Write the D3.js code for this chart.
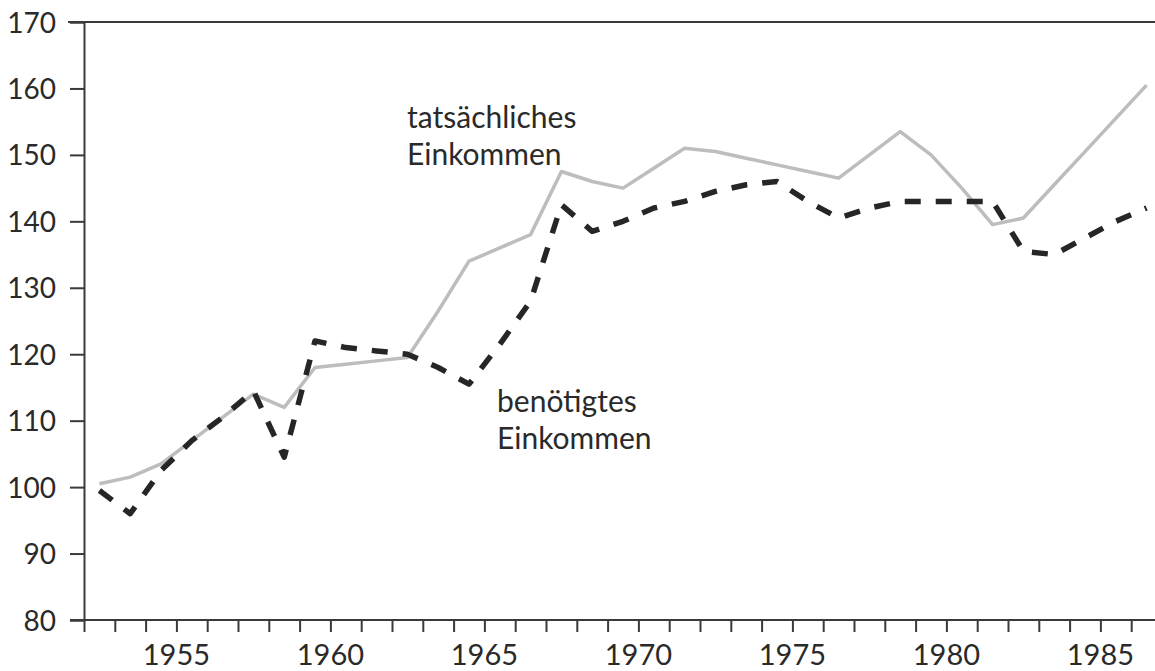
<!DOCTYPE html>
<html>
<head>
<meta charset="utf-8">
<script src="https://cdn.jsdelivr.net/npm/d3@7"></script>
<style>
  html, body { margin: 0; padding: 0; background: #fff; }
  svg { display: block; }
</style>
</head>
<body>
<svg id="chart" width="1155" height="671"></svg>
<script>
// ---- data ----
const years = [1952,1953,1954,1955,1956,1957,1958,1959,1960,1961,1962,1963,1964,1965,1966,1967,1968,1969,1970,1971,1972,1973,1974,1975,1976,1977,1978,1979,1980,1981,1982,1983,1984,1985,1986];
const tatsaechlich = [100.5,101.5,103.5,107,110.5,114,112,118,118.5,119,119.5,126.5,134,136,138,147.5,146,145,148,151,150.5,149.5,148.5,147.5,146.5,150,153.5,150,145,139.5,140.5,145.5,150.5,155.5,160.5];
const benoetigt = [99.5,96,102.5,107,110.5,114.5,104.5,122,121,120.5,120,118,115.5,121.5,128,142.5,138.5,140,142,143,144.5,145.5,146,143,140.5,142,143,143,143,143,135.5,135,137.5,140,142];
const yTicks = [80,90,100,110,120,130,140,150,160,170];
const xTickYears = d3.range(1952, 1987);
const xLabelYears = [1955,1960,1965,1970,1975,1980,1985];
const labelActual = ["tatsächliches", "Einkommen"];
const labelNeeded = ["benötigtes", "Einkommen"];

// ---- layout ----
const svg = d3.select("#chart");
const x = d3.scaleLinear().domain([1952, 1987]).range([84, 1162]);
const y = d3.scaleLinear().domain([80, 170]).range([620, 22]);
const font = "Lato, 'Open Sans', sans-serif";
const axisColor = "#3a3a3a";

// top frame line
svg.append("line").attr("x1", 68).attr("x2", 1155).attr("y1", y(170)).attr("y2", y(170))
  .attr("stroke", axisColor).attr("stroke-width", 2);

// y axis
const yAxis = svg.append("g").attr("transform", `translate(${x(1952)},0)`)
  .call(d3.axisLeft(y).tickValues(yTicks).tickSize(14).tickPadding(14).tickFormat(d3.format("d")));
yAxis.select(".domain").attr("stroke", axisColor).attr("stroke-width", 2);
yAxis.selectAll(".tick line").attr("stroke", axisColor).attr("stroke-width", 2);
yAxis.selectAll(".tick text").attr("font-family", font).attr("font-size", 28)
  .attr("fill", "#2a2a2a").attr("dy", "0.36em");

// x axis
const xAxis = svg.append("g").attr("transform", `translate(0,${y(80)})`)
  .call(d3.axisBottom(x).tickValues(xTickYears).tickSize(12).tickFormat(""));
xAxis.select(".domain").remove();
xAxis.selectAll(".tick line").attr("stroke", axisColor).attr("stroke-width", 2);
svg.append("line").attr("x1", 70).attr("x2", 1155).attr("y1", y(80)).attr("y2", y(80))
  .attr("stroke", axisColor).attr("stroke-width", 2);
svg.append("g").selectAll("text").data(xLabelYears).join("text")
  .attr("x", d => x(d)).attr("y", 665)
  .attr("text-anchor", "middle")
  .attr("font-family", font).attr("font-size", 29).attr("fill", "#2a2a2a")
  .text(d => d);

// lines (values plotted at mid-year)
const line = d3.line().x(d => x(d[0] + 0.5)).y(d => y(d[1]));
svg.append("path")
  .datum(years.map((yr, i) => [yr, tatsaechlich[i]]))
  .attr("d", line).attr("fill", "none")
  .attr("stroke", "#bdbdbd").attr("stroke-width", 3.5)
  .attr("stroke-linejoin", "round");
svg.append("path")
  .datum(years.map((yr, i) => [yr, benoetigt[i]]))
  .attr("d", line).attr("fill", "none")
  .attr("stroke", "#262626").attr("stroke-width", 5.5)
  .attr("stroke-dasharray", "16,15")
  .attr("stroke-linejoin", "round");

// annotations
function annot(lines, x0, y0) {
  const t = svg.append("text").attr("font-family", font).attr("font-size", 30).attr("fill", "#2a2a2a");
  lines.forEach((s, i) => t.append("tspan").attr("x", x0).attr("y", y0 + i * 37).text(s));
}
annot(labelActual, 407, 128);
annot(labelNeeded, 497, 412);
</script>
</body>
</html>
